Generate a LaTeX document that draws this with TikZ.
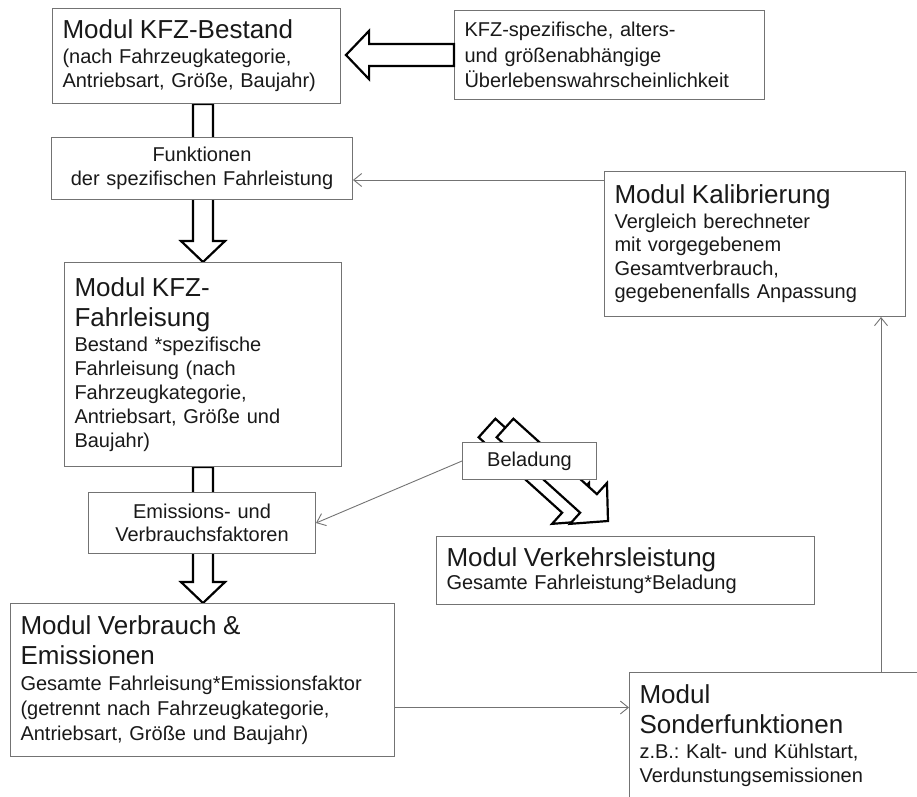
\documentclass[tikz,border=0pt]{standalone}
\usepackage{fontspec}
\setmainfont{Liberation Sans}
\usetikzlibrary{arrows.meta,calc,backgrounds}
\frenchspacing

\newcommand{\bodyfont}[1]{\fontsize{20}{#1}\selectfont}
\newcommand{\modtitle}[1]{{\fontsize{26}{30}\selectfont #1\\[1pt]}}
% wide hollow arrow from #2 to #3, #1 = half width of the shaft
\newcommand{\blockarrow}[3][10]{%
  \draw[blockarrow] let \p1=(#2), \p2=(#3),
      \n1={atan2(\y2-\y1,\x2-\x1)}, \n2={veclen(\x2-\x1,\y2-\y1)} in
    [shift={(\p1)}, rotate=\n1]
    (0pt,-#1pt) -- ({\n2-2.1*#1pt},-#1pt) -- ({\n2-2.1*#1pt},{-2.2*#1pt})
    -- (\n2,0pt) -- ({\n2-2.1*#1pt},{2.2*#1pt}) -- ({\n2-2.1*#1pt},#1pt)
    -- (0pt,#1pt) -- cycle;}

\tikzset{
  modbox/.style={draw=black!55, line width=1pt, fill=white, anchor=north west,
    align=left, inner xsep=10pt, inner ysep=4pt, font={\bodyfont{24}}, text=black!90},
  midbox/.style={modbox, align=center},
  blockarrow/.style={draw=black, line width=2.2pt, fill=white, line join=miter},
  conn/.style={draw=black!55, line width=0.9pt, -{Straight Barb[length=8pt,width=13pt]}}
}

\begin{document}
\begin{tikzpicture}[x=1pt, y=-1pt]
\useasboundingbox (0,0) rectangle (917,796);
\clip (0,0) rectangle (917,796);

\node[modbox, minimum height=95pt, text width=268pt] (bestand) at (52,8)
  {\modtitle{Modul KFZ-Bestand}(nach Fahrzeugkategorie,\\Antriebsart, Größe, Baujahr)};
\node[modbox, minimum height=89pt, text width=290pt, font={\bodyfont{25.5}}] (ueber) at (454,10)
  {KFZ-spezifische, alters-\\und größenabhängige\\Überlebenswahrscheinlichkeit};
\node[midbox, minimum height=62pt, text width=281pt] (funkt) at (51,137)
  {Funktionen\\der spezifischen Fahrleistung};
\node[modbox, minimum height=145pt, text width=281pt, font={\bodyfont{23.5}}] (kalib) at (604,171)
  {\modtitle{Modul Kalibrierung}Vergleich berechneter\\mit vorgegebenem\\Gesamtverbrauch,\\gegebenenfalls Anpassung};
\node[modbox, minimum height=204pt, text width=257pt] (fahrl) at (64,262)
  {\modtitle{Modul KFZ-\\Fahrleisung}Bestand *spezifische\\Fahrleisung (nach\\Fahrzeugkategorie,\\Antriebsart, Größe und\\Baujahr)};
\node[midbox, minimum height=61pt, text width=207pt, font={\bodyfont{23}}] (emiss) at (88,492)
  {Emissions- und\\Verbrauchsfaktoren};
\node[midbox, minimum height=37pt, text width=114pt] (belad) at (462,442) {Beladung};
\node[modbox, minimum height=68pt, text width=358pt, font={\bodyfont{22}}] (verkehr) at (436,536)
  {\modtitle{Modul Verkehrsleistung}Gesamte Fahrleistung*Beladung};
\node[modbox, minimum height=153pt, text width=364pt, font={\bodyfont{25}}] (verbr) at (10,603)
  {\modtitle{Modul Verbrauch \&\\Emissionen}Gesamte Fahrleisung*Emissionsfaktor\\(getrennt nach Fahrzeugkategorie,\\Antriebsart, Größe und Baujahr)};
\node[modbox, text width=300pt, inner ysep=12pt, text depth=200pt] (sonder) at (629,672)
  {\modtitle{Modul\\Sonderfunktionen}z.B.: Kalt- und Kühlstart,\\Verdunstungsemissionen};

% wide arrows behind the boxes
\coordinate (belA) at (487,428);
\coordinate (belB) at (505,428);
\coordinate (verkA) at (590,521);
\coordinate (verkB) at (608,521);
\begin{pgfonlayer}{background}
\blockarrow{bestand.south -| fahrl.north}{fahrl.north}
\blockarrow{fahrl.south}{fahrl.south |- verbr.north}
\blockarrow[12.5]{belA}{verkA}
\blockarrow[12.5]{belB}{verkB}
\end{pgfonlayer}
\blockarrow[11]{ueber.west}{[xshift=5pt]bestand.east |- ueber.west}

% thin connectors
\coordinate (kalibin) at ([yshift=-9pt]kalib.north west);
\coordinate (verbrout) at ([yshift=-27.5pt]verbr.east);
\coordinate (sonderout) at ([xshift=252pt]sonder.north west);
\draw[conn] (kalibin) -- (kalibin -| funkt.east);
\draw[conn] (belad.west) -- (emiss.east);
\draw[conn] (verbrout) -- (verbrout -| sonder.west);
\draw[conn] (sonderout) -- (sonderout |- kalib.south);
\end{tikzpicture}
\end{document}
